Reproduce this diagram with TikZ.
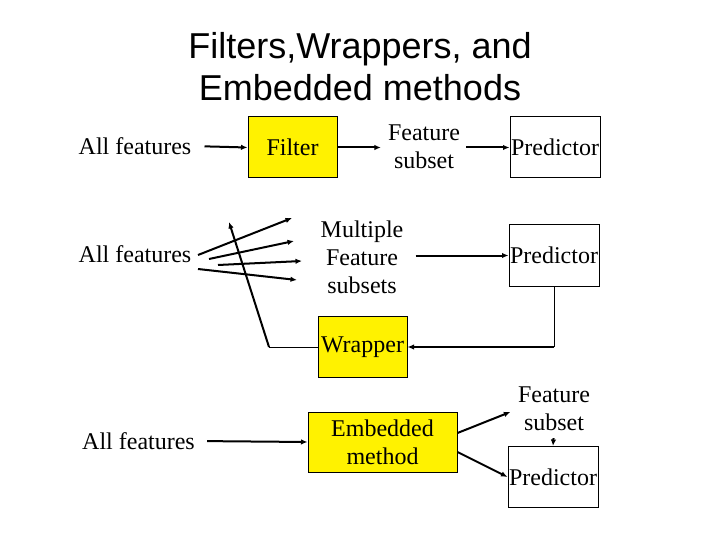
\documentclass[tikz,border=0pt]{standalone}
\usepackage{fontspec}
\setmainfont{Liberation Serif}
\newfontfamily\titlefont{Liberation Sans}
\usetikzlibrary{arrows.meta}
\begin{document}
\begin{tikzpicture}[x=1pt,y=-1pt,
	lbl/.style={font=\fontsize{24}{28}\selectfont,align=center,inner sep=0pt},
	yellowbox/.style={lbl,draw,line width=1pt,fill=yellow,minimum width=89pt,minimum height=61pt},
	predbox/.style={lbl,draw,line width=1pt,minimum width=90pt,minimum height=61pt},
	arr/.style={-{Latex[length=6.5pt,width=5.5pt]},line width=2pt},
	thinline/.style={line width=1pt}]
	\useasboundingbox (0,0) rectangle (720,540);
	\node [align=center,font=\titlefont\fontsize{36}{42}\selectfont] (title) at (360,67)
		{Filters,Wrappers, and\\Embedded methods};
	% filter
	\node [lbl]       (all1)    at (135,146)   {All features};
	\node [yellowbox] (filter)  at (292.5,147.5) {Filter};
	\node [lbl]       (sub1)    at (424,147)   {Feature\\subset};
	\node [predbox]   (pred1)   at (555,147.5) {Predictor};
	\draw [arr,shorten <=13pt] (all1.east) -- (filter.west);
	\draw [arr,shorten >=7pt]  (filter.east) -- (sub1.west |- filter.east);
	\draw [arr,shorten <=6pt]  (sub1.east |- pred1.west) -- (pred1.west);
	% wrapper
	\node [lbl]       (all2)    at (135,254)   {All features};
	\node [lbl]       (multi)   at (362,257)   {Multiple\\Feature\\subsets};
	\node [predbox]   (pred2)   at (554,255.5) {Predictor};
	\node [yellowbox] (wrapper) at (362.5,347) {Wrapper};
	\foreach \sx/\sy/\ex/\ey [count=\i] in {198/255/292/218, 209/259/294/241, 218/265/302/261, 198/269/297/280}{%
			\coordinate (fan\i s) at (\sx,\sy);
			\coordinate (fan\i e) at (\ex,\ey);
			\draw [arr] (fan\i s) -- (fan\i e);
			}
	\coordinate (back)    at (269,347);
	\coordinate (backtip) at (229,222);
	\draw [thinline] (wrapper.west) -- (back);
	\draw [arr] (back) -- (backtip);
	\draw [arr,shorten <=12pt] (multi.east |- pred2.west) -- (pred2.west);
	\coordinate (corner) at (pred2.south |- wrapper.east);
	\draw [thinline] (pred2.south) -- (corner);
	\draw [arr] (corner) -- (wrapper.east);
	% embedded
	\node [lbl]       (all3)    at (138.5,441) {All features};
	\node [yellowbox,minimum width=149pt,minimum height=60pt] (embed) at (382.5,442) {Embedded\\method};
	\node [lbl]       (sub3)    at (554,409)   {Feature\\subset};
	\node [predbox]   (pred3)   at (553,477)   {Predictor};
	\draw [arr,shorten <=12pt] (all3.east) -- (embed.west);
	\draw [arr,shorten >=8pt]  ([yshift=9pt]embed.east) -- (sub3.west);
	\draw [arr] ([yshift=-10pt]embed.east) -- (pred3.west);
	\draw [arr,shorten <=7pt] (sub3.south) -- (pred3.north);
\end{tikzpicture}
\end{document}
